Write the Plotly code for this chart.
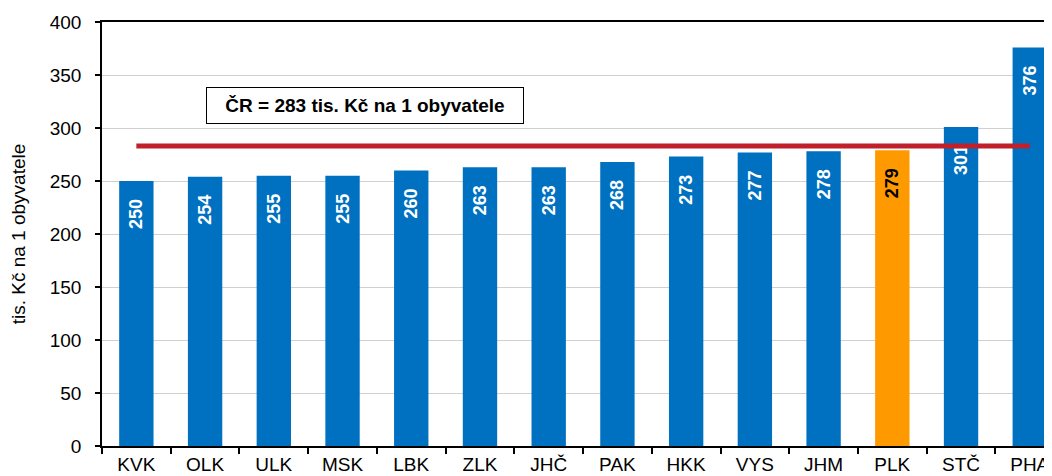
import plotly.graph_objects as go

categories = ["KVK", "OLK", "ULK", "MSK", "LBK", "ZLK", "JHČ", "PAK", "HKK", "VYS", "JHM", "PLK", "STČ", "PHA"]
values = [250, 254, 255, 255, 260, 263, 263, 268, 273, 277, 278, 279, 301, 376]
cr_value = 283
highlight = "PLK"

blue = "#0070C0"
orange = "#FF9900"
bar_colors = [orange if c == highlight else blue for c in categories]
text_colors = ["black" if c == highlight else "white" for c in categories]

FONT = "Liberation Sans, Arial, sans-serif"
NB = "\u00a0"

fig = go.Figure()
fig.add_trace(go.Bar(
    x=categories, y=values,
    marker=dict(color=bar_colors, line=dict(width=0)),
    text=[str(v) + NB * 3 for v in values],
    textposition="inside",
    insidetextanchor="end",
    textangle=-90,
    constraintext="none",
    textfont=dict(family=FONT, size=18, color=text_colors, weight="bold"),
    hoverinfo="skip",
))
fig.add_trace(go.Scatter(
    x=categories, y=[cr_value] * len(categories),
    mode="lines",
    line=dict(color="#C0202A", width=5),
    hoverinfo="skip",
))

fig.add_annotation(
    x=3.32, y=321, xref="x", yref="y",
    text="<b>ČR = 283 tis. Kč na 1 obyvatele</b>",
    showarrow=False,
    font=dict(family=FONT, size=19, color="black"),
    bordercolor="black", borderwidth=1, borderpad=1,
    bgcolor="white",
    width=314, height=33,
)

# page body has an 8px margin, so the figure is sized/offset to compensate
fig.update_layout(
    width=1052, height=468,
    margin=dict(l=94, r=0, t=14, b=30),
    paper_bgcolor="white", plot_bgcolor="white",
    showlegend=False,
    bargap=0.5,
    font=dict(family=FONT, size=19, color="black"),
)
fig.update_xaxes(
    type="category",
    automargin=False,
    range=[-0.5, 13.44],
    showline=True, linecolor="black", linewidth=1.5, mirror=True,
    ticks="outside", tickson="boundaries", ticklen=6, tickcolor="black", tickwidth=1.5,
    tickfont=dict(family=FONT, size=19, color="black"),
    showgrid=False,
)
fig.update_yaxes(
    automargin=False,
    range=[0, 400],
    dtick=50,
    showline=True, linecolor="black", linewidth=1.5,
    ticks="outside", ticklen=5, tickcolor="black", tickwidth=1.5,
    ticklabelstandoff=10,
    tickfont=dict(family=FONT, size=19, color="black"),
    showgrid=True, gridcolor="#D0D0D0", gridwidth=1,
    zeroline=False,
    title=dict(text="tis. Kč na 1 obyvatele", font=dict(family=FONT, size=19, color="black"), standoff=22),
)

fig.write_html("out.html")
